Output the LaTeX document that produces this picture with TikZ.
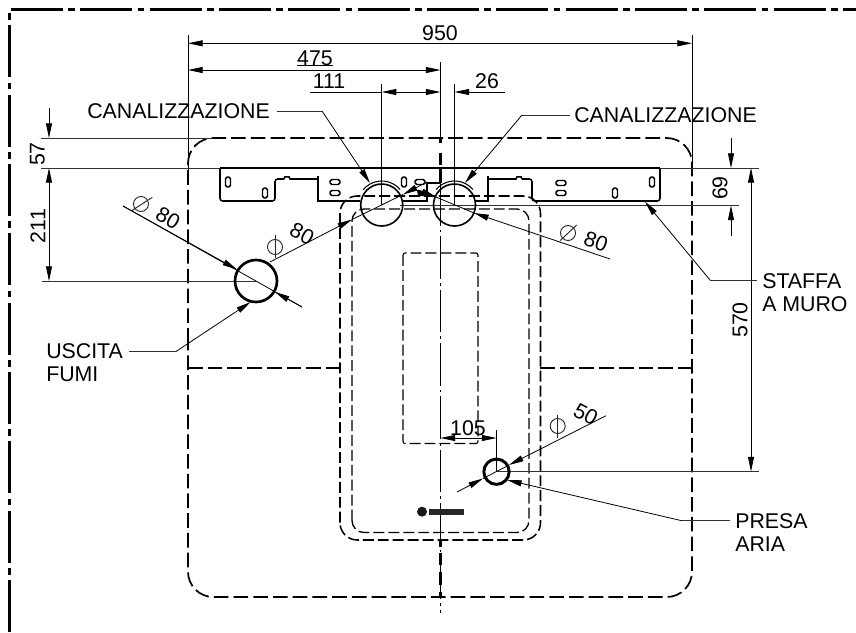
\documentclass[tikz,border=0pt]{standalone}
\usepackage{fontspec}
\setmainfont{Liberation Sans}
\usetikzlibrary{arrows.meta}
\tikzset{
 x=0.75pt,y=-0.75pt,
 thinl/.style={line width=0.65pt,black!80},
 dimline/.style={line width=0.6pt,black},
 arr/.style={-{Triangle[length=11pt,width=4.5pt]},line width=0.6pt},
 arrb/.style={{Triangle[length=11pt,width=4.5pt]}-{Triangle[length=11pt,width=4.5pt]},line width=0.6pt},
 hdash/.style={line width=1.3pt,dash pattern=on 11pt off 3.8pt},
 mdash/.style={line width=1pt,dash pattern=on 8.2pt off 3pt},
 frame/.style={line width=1.8pt,dash pattern=on 39pt off 4pt on 5pt off 4pt},
 axis/.style={line width=0.8pt,dash pattern=on 32pt off 3pt on 2pt off 3pt},
 thick axis/.style={line width=2.2pt},
 part/.style={line width=1.15pt},
 slot/.style={line width=1.1pt,rounded corners=1.3pt},
 lab/.style={font=\fontsize{16pt}{17.2pt}\selectfont,inner sep=0pt,align=left},
 ring/.style={line width=1.2pt,draw},
 dsym/.style={line width=0.7pt,black!85},
}
\begin{document}
\begin{tikzpicture}
\useasboundingbox (0,0) rectangle (856,632);
% frame
\coordinate (fa) at (856,9.5); \coordinate (fc) at (9.5,9.5); \coordinate (fb) at (9.5,632);
\draw[frame] (fb) -- (fc) -- (fa);
% outer envelope
\draw[hdash,rounded corners=19pt] (188,368) -- (188,138) -- (692,138) -- (692,597) -- (188,597) -- cycle;
\draw[hdash] (188,368) -- (340,368);
\draw[hdash] (540,368) -- (692,368);
% boiler
\draw[mdash,line width=1.15pt,rounded corners=13pt] (340,540) -- (340,196) -- (540.5,196) -- (540.5,540) -- cycle;
\draw[mdash,rounded corners=9pt] (352,532.5) -- (352,209) -- (529,209) -- (529,532.5) -- cycle;
\draw[mdash,line width=0.8pt,rounded corners=1.5pt] (403,253) rectangle (478,443.5);
% axis
\draw[axis] (440.5,183) -- (440.5,613);
\foreach \a/\b in {138/143,153/165,168/183,540/547,553/565,572/585,592/598}
  \draw[thick axis] (440.5,\a) -- (440.5,\b);
% bracket
\draw[line width=2pt] (220,168) -- (660,168);
\draw[part,rounded corners=2pt] (220,168) -- (220,201) -- (275,201) -- (275,179) -- (284,179);
\draw[part] (284,179) -- (285,176.8) -- (289,176.8) -- (290,179) -- (318,179);
\draw[part] (318,179) -- (318,201) -- (360,201);
\draw[part] (403,201) -- (427,201) -- (427,183);
\draw[line width=1.6pt] (427,183) -- (441,183);
\draw[part] (475,201) -- (488,201) -- (488,178);
\draw[part] (488,179) -- (516,179) -- (517,176.8) -- (521,176.8) -- (522,179);
\draw[part,rounded corners=2pt] (522,179) -- (532,179) -- (532,201) -- (660,201) -- (660,168);
\draw[line width=1.8pt] (488,176) -- (488,201);
\draw[line width=1.8pt] (318,176) -- (318,201);
% slots
\foreach \p in {(228,182),(265,193),(404,182),(615,193),(652,182)}
  \draw[slot] \p ++(-2.5,-5) rectangle ++(5,10);
\foreach \p in {(335,182),(335,193),(420,182),(561,183),(561,193)}
  \draw[slot] \p ++(-5,-2.5) rectangle ++(10,5);
\fill[black] (417,190) -- (424,191) -- (428,196) -- (418,196) -- cycle;
% extension lines
\coordinate (e1a) at (188,35); \coordinate (e1b) at (188,178);
\coordinate (e2a) at (692,35); \coordinate (e2b) at (692,168);
\coordinate (e3a) at (440.5,62); \coordinate (e3b) at (440.5,140);
\coordinate (e4a) at (381.7,84); \coordinate (e4b) at (381.7,205);
\coordinate (e5a) at (454.5,84); \coordinate (e5b) at (454.5,205);
\draw[dimline] (e1a)--(e1b); \draw[dimline] (e2a)--(e2b); \draw[dimline] (e3a)--(e3b);
\draw[dimline] (e4a)--(e4b); \draw[dimline] (e5a)--(e5b);
\coordinate (h1a) at (41,138); \coordinate (h1b) at (213,138);
\coordinate (h2a) at (41,168); \coordinate (h2b) at (220,168);
\coordinate (h2c) at (660,168); \coordinate (h2d) at (759,168);
\coordinate (h3a) at (41.7,281); \coordinate (h3b) at (256,281);
\coordinate (h4a) at (400,205.5); \coordinate (h4b) at (739,205.5);
\coordinate (h5a) at (497,471.5); \coordinate (h5b) at (759,471.5);
\draw[thinl] (h1a)--(h1b); \draw[thinl] (h2a)--(h2b); \draw[thinl] (h2c)--(h2d);
\draw[thinl] (h3a)--(h3b); \draw[thinl] (h4a)--(h4b); \draw[thinl] (h5a)--(h5b);
% dims
\coordinate (d950a) at (188,43.3); \coordinate (d950b) at (692,43.3);
\draw[arrb] (d950a)--(d950b);
\node[lab] (t950) at (440,33) {950};
\coordinate (d475a) at (188,70); \coordinate (d475b) at (440.5,70);
\draw[arrb] (d475a)--(d475b);
\node[lab] (t475) at (315,58) {475};
\coordinate (ul1) at (297,65.5); \coordinate (ul2) at (333,65.5);
\draw[dimline] (ul1)--(ul2);
\coordinate (d111s) at (310,92); \coordinate (d111a) at (381.7,92); \coordinate (d111b) at (440.5,92);
\draw[dimline] (d111s)--(d111a);
\draw[arrb] (d111a)--(d111b);
\node[lab] (t111) at (329,81.5) {111};
\coordinate (d26a) at (505,92); \coordinate (d26b) at (454.5,92);
\draw[arr] (d26a)--(d26b);
\node[lab] (t26) at (487,81.5) {26};
% left vertical dims
\coordinate (v0) at (49,108); \coordinate (v1) at (49,138); \coordinate (v2) at (49,168); \coordinate (v3) at (49,281);
\draw[arr] (v0)--(v1); \draw[arrb] (v2)--(v3);
\node[lab,rotate=90] (t57) at (37.5,154) {57};
\node[lab,rotate=90] (t211) at (38,226) {211};
% right vertical dims
\coordinate (r0) at (731,138); \coordinate (r1) at (731,168); \coordinate (r2) at (731,205.5); \coordinate (r3) at (731,236);
\draw[arr] (r0)--(r1); \draw[arr] (r3)--(r2);
\node[lab,rotate=90] (t69) at (720,188) {69};
\coordinate (q1) at (751,168); \coordinate (q2) at (751,471.5);
\draw[arrb] (q1)--(q2);
\node[lab,rotate=90] (t570) at (740,320) {570};
% circles
\node[ring,circle,minimum size=31.5pt,inner sep=0pt] (c1) at (381.7,205) {};
\node[ring,circle,minimum size=31.5pt,inner sep=0pt] (c2) at (454.5,205) {};
\node[ring,circle,line width=2pt,minimum size=31.5pt,inner sep=0pt] (c3) at (256,281) {};
\node[ring,circle,line width=2.2pt,minimum size=19pt,inner sep=0pt] (c4) at (496.5,471.7) {};
\draw[line width=0.8pt] (381.7,205) ++(-40:24) arc (-40:-140:24);
\draw[line width=0.8pt] (454.5,205) ++(-40:24) arc (-40:-140:24);
% diameter leaders
\coordinate (a1s) at (123,206); \coordinate (a1t) at (237,269.5); \coordinate (a1u) at (275,292); \coordinate (a1e) at (302,307);
\draw[dimline] (a1s)--(a1e);
\draw[arr] (a1s)--(a1t); \draw[arr] (a1e)--(a1u);
\draw[dsym] (141,204) circle[radius=7.5]; \draw[dsym] (131.7,210.7) -- (152.3,197.3);
\node[lab,rotate=-30] (t80a) at (168,218) {80};
\coordinate (b1s) at (270,262); \coordinate (b1t) at (352,219.5); \coordinate (b1u) at (403,194.5); \coordinate (b1e) at (427,182);
\draw[arr] (b1s)--(b1t); \draw[arr] (b1e)--(b1u);
\draw[dimline] (b1t)--(b1u);
\draw[dsym] (275,247) circle[radius=7.5]; \draw[dsym] (275,235) -- (275,258);
\node[lab,rotate=-28] (t80b) at (302,234) {80};
\coordinate (b2s) at (418,190); \coordinate (b2t) at (436,197); \coordinate (b2u) at (474,213); \coordinate (b2e) at (610,259);
\draw[arr] (b2s)--(b2t); \draw[arr] (b2e)--(b2u); \draw[dimline] (b2t)--(b2u);
\draw[dsym] (568,233) circle[radius=7.5]; \draw[dsym] (560,240.7) -- (576.7,225);
\node[lab,rotate=-20] (t80c) at (596,241.7) {80};
\coordinate (b3s) at (457,492); \coordinate (b3t) at (483,478.5); \coordinate (b3u) at (509,465); \coordinate (b3e) at (606,415.7);
\draw[arr] (b3s)--(b3t); \draw[arr] (b3e)--(b3u); \draw[dimline] (b3t)--(b3u);
\draw[dsym] (557.7,426) circle[radius=7.5]; \draw[dsym] (557.7,415) -- (557.7,438);
\node[lab,rotate=-28] (t50) at (585.7,414.3) {50};
% 105
\coordinate (f1) at (440.5,438); \coordinate (f2) at (496.5,438); \coordinate (f3) at (496.5,430); \coordinate (f4) at (496.5,472);
\draw[arrb] (f1)--(f2); \draw[dimline] (f3)--(f4);
\node[lab] (t105) at (468,428) {105};
% leaders
\node[lab,anchor=west] (canl) at (87,111) {CANALIZZAZIONE};
\coordinate (cl1) at (322,111); \coordinate (cl2) at (370,183);
\draw[thinl] (277,111)--(cl1); \draw[arr] (cl1)--(cl2);
\node[lab,anchor=west] (canr) at (574,115) {CANALIZZAZIONE};
\coordinate (cr1) at (522,115); \coordinate (cr2) at (465,183);
\draw[thinl] (570,115)--(cr1); \draw[arr] (cr1)--(cr2);
\node[lab,anchor=west] (sta) at (762,293) {STAFFA\\A MURO};
\coordinate (s1) at (710,280); \coordinate (s2) at (645,201.7);
\draw[thinl] (757,280)--(s1); \draw[arr] (s1)--(s2);
\node[lab,anchor=west] (usc) at (46,363) {USCITA\\FUMI};
\coordinate (u1) at (176.7,351); \coordinate (u2) at (250.7,302);
\draw[thinl] (129,351)--(u1); \draw[arr] (u1)--(u2);
\node[lab,anchor=west] (pre) at (735,533) {PRESA\\ARIA};
\coordinate (p1) at (681.7,520.7); \coordinate (p2) at (507,480);
\draw[thinl] (730,520.7)--(p1); \draw[arr] (p1)--(p2);
% logo
\fill[black!90] (422,511.7) circle[radius=5];
\fill[black!85] (429,508.5) rectangle (464,514.5);
\end{tikzpicture}
\end{document}
